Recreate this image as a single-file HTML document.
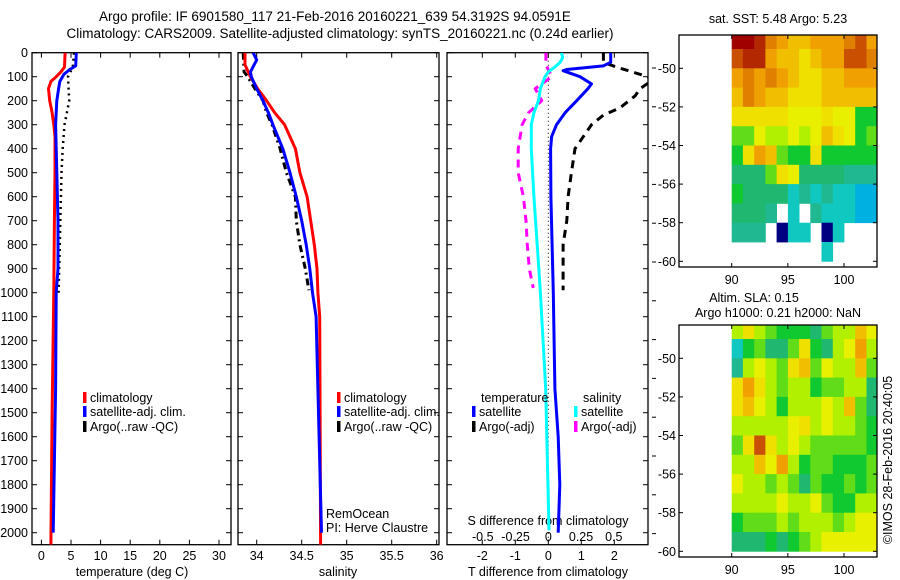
<!DOCTYPE html>
<html><head><meta charset="utf-8">
<style>
html,body{margin:0;padding:0;background:#fff;}
svg{display:block;font-family:"Liberation Sans",sans-serif;}
text{fill:#000;}
</style></head>
<body>
<svg id="fig" width="900" height="580" viewBox="0 0 900 580" xmlns="http://www.w3.org/2000/svg">
<text x="335" y="21" font-size="13.5" text-anchor="middle">Argo profile: IF 6901580_117 21-Feb-2016 20160221_639 54.3192S 94.0591E</text>
<text x="340" y="38" font-size="13.5" text-anchor="middle">Climatology: CARS2009. Satellite-adjusted climatology: synTS_20160221.nc (0.24d earlier)</text>
<text x="132" y="576" font-size="12.5" text-anchor="middle">temperature (deg C)</text>
<text x="338" y="576" font-size="12.5" text-anchor="middle">salinity</text>
<text x="548" y="576" font-size="12.5" text-anchor="middle">T difference from climatology</text>
<text x="548" y="525" font-size="12.5" text-anchor="middle">S difference from climatology</text>
<text x="326" y="518" font-size="12.5">RemOcean</text>
<text x="326" y="532" font-size="12.5">PI: Herve Claustre</text>
<text x="778" y="23" font-size="12.5" text-anchor="middle">sat. SST: 5.48 Argo: 5.23</text>
<text x="754" y="302" font-size="12.5" text-anchor="middle">Altim. SLA: 0.15</text>
<text x="778" y="317" font-size="12.5" text-anchor="middle">Argo h1000: 0.21 h2000: NaN</text>
<text transform="translate(892,460) rotate(-90)" font-size="12.5" text-anchor="middle">©IMOS 28-Feb-2016 20:40:05</text>
</svg>
<script>
// ---------- data ----------
const depthTicks=[0,100,200,300,400,500,600,700,800,900,1000,1100,1200,1300,1400,1500,1600,1700,1800,1900,2000];
const tempTicks=[0,5,10,15,20,25,30];
const salTicks=[34,34.5,35,35.5,36];
const dTTicks=[-2,-1,0,1,2];
const dSTicks=[-0.5,-0.25,0,0.25,0.5];
const dSTickLabels=["-0.5","-0.25","0","0.25","0.5"];
const latTicks=[-50,-52,-54,-56,-58,-60];
const lonTicks=[90,95,100];
// temperature panel (depth, value)
const tClimDepth=[0,60,80,100,120,150,200,250,300,350,500,700,1000,1500,2050];
const tClimVal=[4.0,3.9,3.3,2.5,1.6,1.2,1.4,1.8,2.1,2.3,2.3,2.2,2.1,1.8,1.6];
const tSatDepth=[0,55,70,90,120,150,200,300,500,700,900,1000,1400,2000];
const tSatVal=[5.9,5.8,4.8,3.8,3.1,2.9,2.6,2.4,2.6,2.8,2.8,2.5,2.4,2.0];
const tArgoDepth=[0,60,100,150,200,250,300,400,500,600,700,800,900,1000];
const tArgoVal=[5.5,5.3,4.5,4.6,4.7,4.3,3.9,3.6,3.4,3.3,3.2,3.1,3.0,2.9];
// salinity panel
const sClimDepth=[0,50,100,150,200,250,300,400,500,600,700,800,900,1000,1100,2050];
const sClimVal=[33.87,33.87,33.93,34.01,34.11,34.2,34.31,34.43,34.48,34.56,34.6,34.64,34.67,34.68,34.7,34.71];
const sSatDepth=[0,30,80,100,150,200,250,300,400,500,600,700,800,900,1000,1100,2000];
const sSatVal=[33.96,34.0,33.93,33.94,34.0,34.07,34.13,34.18,34.29,34.37,34.44,34.5,34.55,34.59,34.62,34.66,34.72];
const sArgoDepth=[0,80,100,150,200,250,300,400,500,600,700,800,900,990];
const sArgoVal=[33.85,33.86,33.9,33.98,34.07,34.11,34.17,34.26,34.33,34.43,34.44,34.48,34.54,34.58];
// difference panel
const dTSatDepth=[0,40,55,70,75,100,130,150,200,250,300,350,400,600,1000,1400,1600,1800,2000];
const dTSatVal=[1.89,1.89,1.67,0.56,0.45,0.96,1.31,1.2,0.86,0.51,0.25,0.1,0.07,0.08,0.15,0.2,0.3,0.35,0.3];
const dTArgoDepth=[0,40,60,90,110,150,180,230,260,300,400,500,600,700,800,900,990];
const dTArgoVal=[1.67,1.67,2.07,2.78,3.2,2.78,2.63,2.17,1.67,1.31,0.81,0.7,0.6,0.56,0.45,0.45,0.45];
const dSSatDepth=[0,20,40,60,80,100,150,200,250,300,400,600,800,1000,1400,1990];
const dSSatVal=[0.10,0.11,0.09,0.05,0,-0.025,-0.06,-0.075,-0.11,-0.13,-0.13,-0.11,-0.085,-0.06,-0.02,0.005];
const dSArgoDepth=[0,50,100,150,200,250,300,400,500,600,700,800,900,980];
const dSArgoVal=[-0.018,-0.018,0.026,-0.1,-0.05,-0.15,-0.2,-0.23,-0.23,-0.19,-0.17,-0.16,-0.145,-0.115];
// maps: rows from lat -48 downward (1 deg), cols lon 90..102 (1 deg); null = no data
const sstGrid=[
[9,9,8.5,7.5,7,6.5,6.5,7,7,7,7.5,8,7],
[8,8.5,8.5,7,6.5,6.5,6,6.5,7,7,8,8,7.5],
[7,7.5,7,7.5,7,6.5,6,6,6.5,6.5,7,7,7],
[6.5,7.5,7,6.5,6.5,6,6,6,6.5,6.5,6.5,6.5,6.5],
[6,6,6,6,6,5.5,5.5,5.5,6,5.5,5.5,4,4],
[4.5,4.5,5.5,5,5,5.5,5,5.5,6.5,6,5.5,4,4.5],
[4,6,7,6.5,4.5,4,4,6,4,4,4,4,4],
[3.5,3.5,3.5,4.5,6,5.5,3.5,3.5,3.5,3.5,3,3,3],
[4,3.5,3.5,3.5,3.5,2.5,3,2.5,3,2.5,2.5,2,2],
[3.5,3.5,3.5,3,null,2.5,null,3,2.5,2.5,2.5,2,2],
[3,3,3,null,0,2.5,2.5,null,0,2.5,null,null,null],
[null,null,null,null,null,null,null,null,2.5,null,null,null,null]];
const slaGrid=[
[5,6,5,4.5,4,4,4,3.5,4.5,5,5,6.5,5.5],
[2.5,4,4.5,3.5,3.5,4.5,6,4,3.5,5,5.5,7,5],
[3,5,5.5,5,4.5,6,6.5,4.5,5.5,5,5,6.5,4.5],
[6,7,6,5,4.5,5,5,4,4.5,4.5,5,5,3.5],
[6,6.5,5.5,5,4,5,5,5,5.5,5,6.5,4.5,3.5],
[5,5,5,5,5,5.5,6,5,5.5,5,5,4.5,4],
[4.5,6,8,6,5,5.5,5,4.5,4.5,4.5,4.5,4.5,4],
[5,5,6.5,5.5,7,5,4,4.5,4.5,4,4,4,4.5],
[5.5,5,5,4.5,5,4.5,3.5,4.5,4,4,4.5,4,4.5],
[5,5,5,5,5.5,5,5,5.5,4.5,4,4,5,5],
[4,4.5,4.5,4.5,5,4.5,5,5,5,4.5,5,5.5,5.5],
[3.5,3.5,3.5,4,3.5,4,4.5,5,5.5,5.5,5.5,5.5,5.5]];

// ---------- helpers ----------
const NS="http://www.w3.org/2000/svg";
const svg=document.getElementById('fig');
function el(tag,attrs,parent){const e=document.createElementNS(NS,tag);for(const k in attrs)e.setAttribute(k,attrs[k]);(parent||svg).appendChild(e);return e;}
const yD=d=>52.7+d*0.24;
const xT=t=>41.4+t*5.92;
const xS=s=>256.7+(s-34)*90;
const xDT=t=>548.3+t*33;
const xDS=s=>548.3+s*131;
const P1={x0:32,x1:231},P2={x0:238,x1:439},P3={x0:447,x1:648};
const Y0=52.7,Y1=544.7;

function clip(id,x0,y0,x1,y1){const c=el('clipPath',{id:id});el('rect',{x:x0,y:y0,width:x1-x0,height:y1-y0},c);}
clip('c1',P1.x0,Y0,P1.x1,Y1);clip('c2',P2.x0,Y0,P2.x1,Y1);clip('c3',P3.x0,Y0,P3.x1,Y1);
clip('m1',679,35,877,267);clip('m2',679,325,877,557);

function panelBox(P,name){
  const b=el('rect',{x:P.x0,y:Y0,width:P.x1-P.x0,height:Y1-Y0,fill:'none',stroke:'#000','stroke-width':1.3});
  
  
  depthTicks.forEach(d=>{
    el('line',{x1:P.x0,x2:P.x0+5,y1:yD(d),y2:yD(d),stroke:'#000'});
    el('line',{x1:P.x1,x2:P.x1-5,y1:yD(d),y2:yD(d),stroke:'#000'});
  });
}
panelBox(P1,'temperature-panel');panelBox(P2,'salinity-panel');panelBox(P3,'difference-panel');
depthTicks.forEach(d=>{
  const t=el('text',{x:28,y:yD(d)+4.5,'font-size':12.5,'text-anchor':'end'});
  t.textContent=d;
  
  
});
function xTicks(ticks,labels,fx,P,ylab,name){
  ticks.forEach((v,i)=>{
    el('line',{x1:fx(v),x2:fx(v),y1:Y1,y2:Y1-5,stroke:'#000'});
    el('line',{x1:fx(v),x2:fx(v),y1:Y0,y2:Y0+5,stroke:'#000'});
    const t=el('text',{x:fx(v),y:ylab,'font-size':12.5,'text-anchor':'middle'});
    t.textContent=labels?labels[i]:v;
    
    
  });
}
xTicks(tempTicks,null,xT,P1,560,'temperature-tick-label');
xTicks(salTicks,null,xS,P2,560,'salinity-tick-label');
xTicks(dTTicks,null,xDT,P3,560,'dt-tick-label');
dSTicks.forEach((v,i)=>{
  const t=el('text',{x:xDS(v),y:541,'font-size':12.5,'text-anchor':'middle'});
  t.textContent=dSTickLabels[i];
  
  
});
// stray right ticks
for(let k=0;k<13;k++){el('line',{x1:652,x2:656,y1:68+k*38.8,y2:68+k*38.8,stroke:'#000'});}
// zero line
const z=el('line',{x1:xDT(0),x2:xDT(0),y1:Y0,y2:Y1,stroke:'#000','stroke-dasharray':'1,3'});



function line(depths,vals,fx,color,w,dash,cp,name){
  const pts=depths.map((d,i)=>fx(vals[i]).toFixed(1)+','+yD(d).toFixed(1)).join(' ');
  const a={points:pts,fill:'none',stroke:color,'stroke-width':w,'clip-path':'url(#'+cp+')','stroke-linejoin':'round'};
  if(dash)a['stroke-dasharray']=dash;
  const p=el('polyline',a);
  
  
}
line(tArgoDepth,tArgoVal,xT,'#000',2.5,'2,4','c1','temperature-argo-line');
line(tClimDepth,tClimVal,xT,'#f00',3,null,'c1','temperature-climatology-line');
line(tSatDepth,tSatVal,xT,'#00f',3,null,'c1','temperature-satellite-line');
line(sArgoDepth,sArgoVal,xS,'#000',3,'7,4,2,4','c2','salinity-argo-line');
line(sClimDepth,sClimVal,xS,'#f00',3,null,'c2','salinity-climatology-line');
line(sSatDepth,sSatVal,xS,'#00f',3,null,'c2','salinity-satellite-line');
line(dTArgoDepth,dTArgoVal,xDT,'#000',3,'8,6','c3','dt-argo-line');
line(dSArgoDepth,dSArgoVal,xDS,'#f0f',3,'8,6','c3','ds-argo-line');
line(dSSatDepth,dSSatVal,xDS,'#0ff',3,null,'c3','ds-satellite-line');
line(dTSatDepth,dTSatVal,xDT,'#00f',3,null,'c3','dt-satellite-line');

function legend(x,y,color,label,name){
  el('rect',{x:x,y:y-10,width:3.5,height:11,fill:color});
  const t=el('text',{x:x+7,y:y,'font-size':12.5});
  t.textContent=label;
  
  
}
legend(83,402,'#f00','climatology','legend-temp-climatology');
legend(83,416,'#00f','satellite-adj. clim.','legend-temp-satellite');
legend(83,431,'#000','Argo(..raw -QC)','legend-temp-argo');
legend(337,402,'#f00','climatology','legend-sal-climatology');
legend(337,416,'#00f','satellite-adj. clim.','legend-sal-satellite');
legend(337,431,'#000','Argo(..raw -QC)','legend-sal-argo');
const lt=el('text',{x:481,y:402,'font-size':12.5});lt.textContent='temperature';


const ls=el('text',{x:583,y:402,'font-size':12.5});ls.textContent='salinity';


legend(472,416,'#00f','satellite','legend-dt-satellite');
legend(472,431,'#000','Argo(-adj)','legend-dt-argo');
legend(574,416,'#0ff','satellite','legend-ds-satellite');
legend(574,431,'#f0f','Argo(-adj)','legend-ds-argo');

// ---------- maps ----------
const stops=[[0,[0,0,128]],[1,[0,64,255]],[2,[0,176,224]],[2.5,[16,200,192]],[3,[32,184,144]],[3.5,[32,184,112]],[4,[16,200,48]],[5,[176,240,0]],[5.5,[232,240,0]],[6,[240,224,0]],[6.5,[240,192,0]],[7,[240,160,0]],[7.5,[224,128,0]],[8,[200,80,0]],[9,[160,0,0]]];
function cmap(v){
  for(let i=1;i<stops.length;i++){if(v<=stops[i][0]){const a=stops[i-1],b=stops[i],f=(v-a[0])/(b[0]-a[0]);return 'rgb('+a[1].map((c,j)=>Math.round(c+(b[1][j]-c)*f)).join(',')+')';}}
  return 'rgb(160,0,0)';
}
function drawMap(grid,y50,cp,boxY0,boxY1,name){
  const xL=lon=>731.7+(lon-90)*11.23;
  const yL=lat=>y50+(-lat-50)*19.3;
  const g=el('g',{'clip-path':'url(#'+cp+')'});
  
  
  grid.forEach((row,i)=>row.forEach((v,j)=>{
    if(v===null)return;
    const r=el('rect',{x:xL(90+j).toFixed(1),y:yL(-48-i).toFixed(1),width:11.6,height:19.7,fill:cmap(v)},g);
    
    
  }));
  const b=el('rect',{x:679,y:boxY0,width:198,height:boxY1-boxY0,fill:'none',stroke:'#000','stroke-width':1.3});
  
  
  latTicks.forEach(l=>{
    el('line',{x1:679,x2:683,y1:yL(l),y2:yL(l),stroke:'#000'});
    el('line',{x1:877,x2:873,y1:yL(l),y2:yL(l),stroke:'#000'});
    const t=el('text',{x:676,y:yL(l)+4.5,'font-size':12.5,'text-anchor':'end'});t.textContent='-'+(-l);
    
    
  });
  lonTicks.forEach(l=>{
    el('line',{x1:xL(l),x2:xL(l),y1:boxY1,y2:boxY1-4,stroke:'#000'});
    el('line',{x1:xL(l),x2:xL(l),y1:boxY0,y2:boxY0+4,stroke:'#000'});
    const t=el('text',{x:xL(l),y:boxY1+17,'font-size':12.5,'text-anchor':'middle'});t.textContent=l;
    
    
  });
}
drawMap(sstGrid,68.3,'m1',35,267,'sst-map');
drawMap(slaGrid,358.3,'m2',325,557,'sla-map');
</script>
</body></html>
